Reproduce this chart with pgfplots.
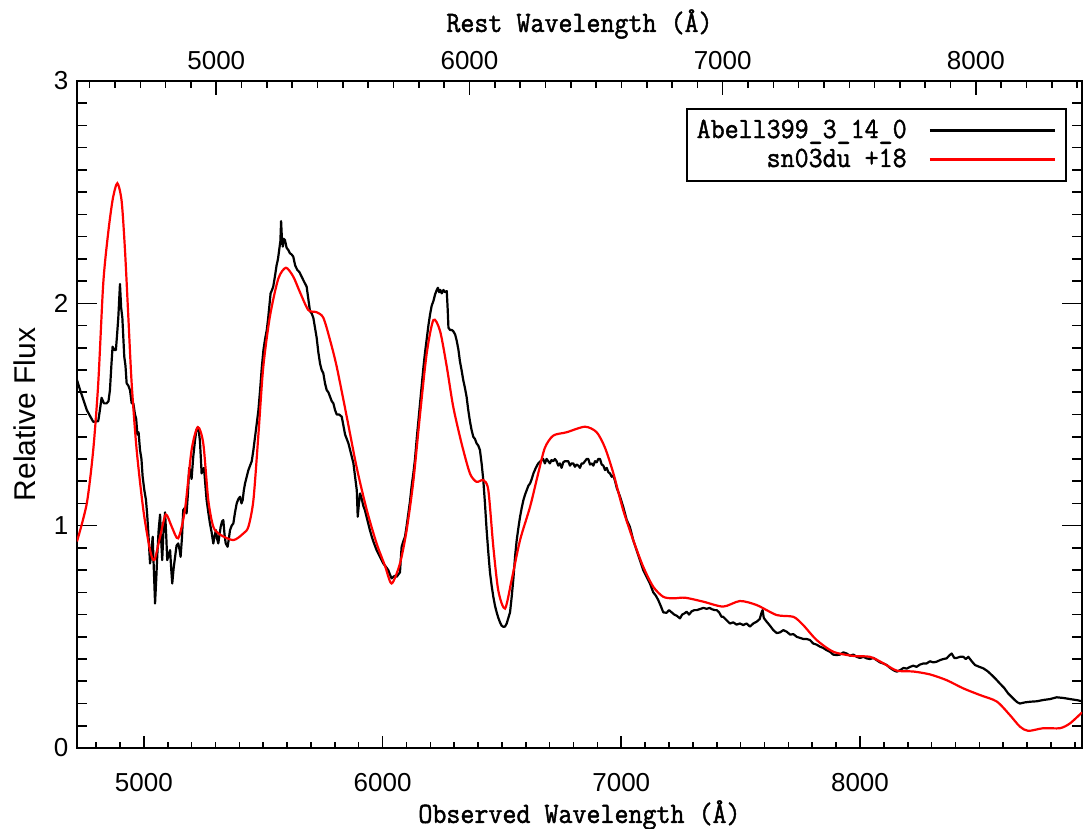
\documentclass[border=0pt]{standalone}
\usepackage{fontspec}
\setmainfont{Liberation Sans}
\newfontfamily\hersh{Latin Modern Mono}[FakeBold=1.6]
\usepackage{graphicx}
\usepackage{pgfplots}
\pgfplotsset{compat=1.18}
\newcommand{\hf}[1]{{\hersh\fontsize{13.6}{15}\selectfont\scalebox{1}[1.08]{#1}}}

\pgfplotstableread{
x y
4720 1.655
4733 1.61
4761 1.52
4788 1.467
4809 1.47
4816 1.52
4823 1.575
4833 1.55
4844 1.55
4852 1.56
4858 1.61
4864 1.72
4869 1.805
4876 1.79
4883 1.79
4888 1.86
4893 1.935
4900 2.087
4905 1.98
4910 1.935
4918 1.76
4923 1.72
4928 1.64
4935 1.63
4942 1.61
4949 1.55
4956 1.55
4963 1.50
4968 1.48
4973 1.41
4978 1.42
4984 1.34
4990 1.30
4995 1.22
5002 1.16
5009 1.115
5014 1.05
5019 0.965
5026 0.83
5031 0.87
5037 0.95
5042 0.80
5047 0.65
5052 0.76
5056 0.86
5062 0.98
5068 1.05
5072 0.95
5077 0.845
5082 0.97
5089 1.06
5094 0.95
5098 0.845
5104 0.87
5110 0.89
5115 0.80
5119 0.74
5125 0.81
5131 0.86
5137 0.91
5144 0.92
5150 0.89
5154 0.86
5160 0.95
5165 1.07
5172 1.08
5179 1.055
5185 1.15
5190 1.26
5196 1.24
5200 1.21
5207 1.31
5214 1.38
5220 1.43
5226 1.443
5231 1.42
5235 1.38
5239 1.30
5242 1.235
5247 1.25
5252 1.26
5258 1.18
5263 1.115
5270 1.06
5277 1.01
5284 0.97
5291 0.92
5296 0.95
5302 0.98
5307 0.94
5312 0.92
5317 0.96
5322 0.995
5328 1.02
5333 1.025
5338 0.96
5343 0.92
5351 0.905
5356 0.94
5361 0.98
5368 1.00
5375 1.01
5382 1.06
5389 1.10
5396 1.12
5403 1.13
5409 1.10
5414 1.115
5419 1.16
5424 1.19
5431 1.22
5438 1.25
5445 1.27
5452 1.29
5459 1.34
5466 1.40
5473 1.46
5480 1.52
5487 1.61
5494 1.71
5501 1.79
5508 1.84
5515 1.88
5521 1.935
5526 1.99
5531 2.045
5537 2.06
5542 2.075
5549 2.12
5556 2.17
5562 2.20
5567 2.24
5572 2.28
5575 2.37
5578 2.30
5582 2.255
5586 2.29
5591 2.285
5598 2.25
5605 2.24
5612 2.225
5619 2.22
5626 2.21
5634 2.17
5643 2.15
5652 2.14
5661 2.12
5670 2.10
5682 2.075
5689 2.02
5696 1.965
5703 1.955
5710 1.935
5717 1.89
5724 1.845
5731 1.78
5738 1.73
5745 1.70
5752 1.685
5759 1.64
5766 1.61
5773 1.60
5780 1.58
5787 1.56
5794 1.55
5801 1.52
5808 1.50
5818 1.50
5829 1.49
5836 1.45
5843 1.41
5850 1.39
5857 1.37
5864 1.34
5871 1.31
5878 1.28
5885 1.22
5892 1.16
5896 1.04
5901 1.10
5906 1.145
5913 1.12
5919 1.09
5926 1.07
5933 1.04
5940 1.01
5947 0.98
5955 0.95
5961 0.93
5968 0.91
5975 0.89
5989 0.86
6003 0.83
6014 0.815
6024 0.80
6031 0.78
6038 0.763
6045 0.77
6052 0.775
6059 0.77
6066 0.78
6073 0.79
6077 0.86
6080 0.905
6087 0.93
6094 0.95
6101 1.00
6108 1.055
6115 1.11
6122 1.18
6129 1.235
6136 1.30
6143 1.39
6150 1.47
6157 1.55
6164 1.63
6171 1.71
6178 1.78
6185 1.84
6192 1.90
6199 1.95
6206 1.99
6213 2.01
6220 2.04
6227 2.06
6232 2.07
6237 2.05
6242 2.06
6248 2.045
6255 2.06
6262 2.05
6269 2.055
6273 1.97
6276 1.89
6283 1.88
6290 1.88
6296 1.875
6304 1.86
6311 1.83
6318 1.79
6324 1.74
6331 1.70
6338 1.655
6345 1.62
6352 1.58
6359 1.52
6366 1.47
6373 1.43
6380 1.40
6387 1.39
6394 1.37
6401 1.36
6408 1.34
6415 1.28
6422 1.205
6429 1.10
6436 0.98
6443 0.88
6450 0.79
6457 0.73
6464 0.68
6471 0.64
6478 0.61
6485 0.585
6492 0.565
6499 0.55
6506 0.545
6513 0.546
6520 0.56
6527 0.585
6534 0.61
6541 0.68
6548 0.76
6555 0.86
6562 0.935
6569 0.99
6576 1.04
6583 1.08
6590 1.115
6597 1.14
6604 1.16
6611 1.18
6618 1.19
6625 1.21
6632 1.235
6642 1.26
6652 1.28
6662 1.29
6673 1.30
6680 1.28
6687 1.30
6694 1.29
6701 1.28
6708 1.295
6715 1.29
6722 1.30
6729 1.29
6736 1.27
6743 1.28
6750 1.26
6757 1.285
6764 1.29
6771 1.29
6778 1.29
6785 1.27
6792 1.28
6799 1.28
6806 1.265
6813 1.275
6820 1.27
6827 1.26
6834 1.28
6841 1.28
6848 1.29
6855 1.30
6862 1.30
6869 1.275
6876 1.28
6883 1.27
6890 1.29
6897 1.285
6904 1.30
6911 1.30
6918 1.275
6925 1.27
6932 1.25
6939 1.26
6946 1.24
6953 1.235
6960 1.22
6967 1.225
6974 1.20
6981 1.17
6988 1.15
6995 1.13
7008 1.085
7023 1.025
7036 0.995
7050 0.935
7064 0.89
7078 0.845
7092 0.80
7106 0.77
7120 0.74
7134 0.70
7145 0.685
7155 0.665
7165 0.64
7176 0.61
7190 0.608
7200 0.62
7211 0.61
7222 0.60
7232 0.595
7246 0.583
7255 0.60
7264 0.605
7274 0.613
7284 0.60
7295 0.615
7306 0.62
7316 0.62
7330 0.625
7344 0.63
7358 0.626
7370 0.63
7380 0.624
7392 0.62
7400 0.62
7410 0.61
7420 0.59
7427 0.59
7441 0.575
7455 0.56
7469 0.565
7483 0.555
7497 0.56
7511 0.553
7525 0.56
7539 0.546
7553 0.56
7567 0.568
7580 0.58
7588 0.61
7592 0.62
7597 0.585
7609 0.568
7623 0.55
7637 0.53
7651 0.517
7665 0.52
7679 0.53
7693 0.523
7707 0.51
7721 0.512
7735 0.50
7749 0.495
7763 0.49
7777 0.49
7790 0.486
7804 0.47
7818 0.465
7832 0.456
7846 0.45
7860 0.44
7874 0.433
7888 0.42
7902 0.418
7916 0.42
7930 0.43
7944 0.425
7958 0.415
7972 0.42
7986 0.41
8000 0.405
8014 0.41
8028 0.403
8042 0.40
8056 0.405
8070 0.395
8084 0.385
8098 0.38
8112 0.373
8126 0.36
8140 0.35
8154 0.343
8168 0.35
8182 0.36
8196 0.357
8210 0.365
8223 0.37
8237 0.365
8251 0.375
8265 0.38
8279 0.38
8293 0.39
8307 0.385
8321 0.388
8335 0.395
8349 0.40
8363 0.403
8373 0.415
8384 0.425
8395 0.405
8405 0.405
8419 0.41
8433 0.41
8443 0.40
8454 0.41
8468 0.39
8482 0.373
8500 0.365
8517 0.358
8535 0.345
8552 0.328
8569 0.31
8586 0.29
8604 0.27
8621 0.245
8635 0.23
8649 0.215
8660 0.205
8670 0.20
8690 0.205
8712 0.208
8740 0.21
8768 0.216
8796 0.22
8824 0.228
8852 0.225
8880 0.22
8910 0.215
8930 0.21
}\blackdata

\pgfplotstableread{
x y
4720 0.929
4761 1.10
4788 1.34
4809 1.64
4830 2.09
4851 2.32
4870 2.47
4889 2.54
4907 2.46
4921 2.24
4935 1.94
4949 1.64
4970 1.34
4998 1.07
5026 0.89
5044 0.845
5068 0.95
5092 1.05
5117 0.995
5144 0.943
5172 1.07
5200 1.34
5226 1.443
5249 1.37
5270 1.115
5291 0.995
5319 0.96
5375 0.935
5417 0.965
5438 0.995
5459 1.115
5480 1.41
5500 1.71
5528 1.94
5563 2.11
5595 2.16
5626 2.12
5654 2.05
5689 1.97
5724 1.96
5752 1.935
5780 1.835
5808 1.715
5850 1.49
5892 1.26
5934 1.07
5975 0.92
6010 0.82
6038 0.74
6073 0.83
6101 0.98
6129 1.20
6157 1.50
6185 1.775
6213 1.925
6241 1.875
6269 1.715
6296 1.535
6331 1.37
6366 1.235
6394 1.197
6422 1.205
6443 1.16
6464 0.905
6485 0.707
6513 0.627
6541 0.757
6576 0.935
6618 1.085
6652 1.235
6680 1.35
6715 1.405
6771 1.42
6848 1.445
6897 1.42
6932 1.35
6967 1.235
7008 1.07
7050 0.935
7092 0.815
7134 0.725
7176 0.68
7218 0.673
7267 0.676
7344 0.658
7427 0.636
7497 0.661
7567 0.643
7651 0.598
7721 0.59
7762 0.553
7818 0.486
7888 0.433
7972 0.414
8042 0.41
8098 0.381
8154 0.348
8223 0.344
8293 0.331
8363 0.305
8433 0.268
8503 0.238
8573 0.209
8628 0.148
8670 0.096
8705 0.077
8768 0.089
8838 0.089
8880 0.111
8930 0.16
}\reddata

\pgfplotsset{
  base/.style={
    width=502.5pt, height=333.5pt, scale only axis,
    at={(0,0)}, anchor=south west,
    xmin=4720, xmax=8930, ymin=0, ymax=3,
    axis line style={line width=1pt},
    tick style={line width=0.8pt, black},
    tick align=inside,
    /pgf/number format/assume math mode=true,
    /pgf/number format/1000 sep={},
    scaled ticks=false,
    tick label style={font=\fontsize{13}{13}\selectfont},
  }
}

\begin{document}
\begin{tikzpicture}
\path[use as bounding box] (-38.5pt,-40.5pt) rectangle (503.5pt,374pt);

% data axis with y ticks
\begin{axis}[base,
  xtick=\empty,
  ytick={0,1,2,3}, minor ytick={0,0.1,...,3},
  ytick pos=both, yticklabel pos=left,
  major tick length=10pt, minor tick length=5pt,
  yticklabel style={anchor=center, xshift=-8pt},
  ylabel={Relative Flux},
  ylabel style={at={(axis description cs:-0.052,0.5)}, anchor=center, font=\fontsize{15}{15}\selectfont},
  legend plot pos=right,
  legend cell align=right,
  legend image code/.code={\draw[#1] (0pt,0pt) -- (53pt,0pt); \path (0pt,0pt) -- (62.5pt,0pt);},
  legend style={at={(0.985,0.9595)}, anchor=north east, draw=black, line width=1pt, fill=white,
    inner xsep=5pt, inner ysep=5.5pt, row sep=4pt, column sep=11pt,
    nodes={inner sep=0pt, text height=9pt, text depth=1.5pt}},
]
\addplot[black, line width=1.1pt, line join=round] table[x=x, y=y] {\blackdata};
\addlegendentry{\hf{Abell399\_3\_14\_0}}
\addplot[red, line width=1.1pt, smooth, tension=0.45] table[x=x, y=y] {\reddata};
\addlegendentry{\hf{sn03du +18}}
\end{axis}

% bottom observed wavelength axis
\begin{axis}[base,
  hide y axis,
  xtick={5000,6000,7000,8000},
  minor xtick={4800,4900,...,8900},
  xtick pos=left, xticklabel pos=left,
  major tick length=6pt, minor tick length=3.2pt,
  xticklabel style={anchor=center, yshift=-17.5pt},
  xlabel={\hf{Observed Wavelength (Å)}},
  xlabel style={at={(axis description cs:0.5,0)}, anchor=center, yshift=-33.5pt},
]
\end{axis}

% top rest wavelength axis
\begin{axis}[base,
  xmin=4450, xmax=8419,
  hide y axis,
  xtick={5000,6000,7000,8000},
  minor xtick={4500,4600,...,8400},
  xtick pos=right, xticklabel pos=right,
  major tick length=7pt, minor tick length=3.5pt,
  xticklabel style={anchor=center, yshift=10pt},
  xlabel={\hf{Rest Wavelength (Å)}},
  xlabel style={at={(axis description cs:0.5,1)}, anchor=center, yshift=28.5pt},
]
\end{axis}
\end{tikzpicture}
\end{document}
